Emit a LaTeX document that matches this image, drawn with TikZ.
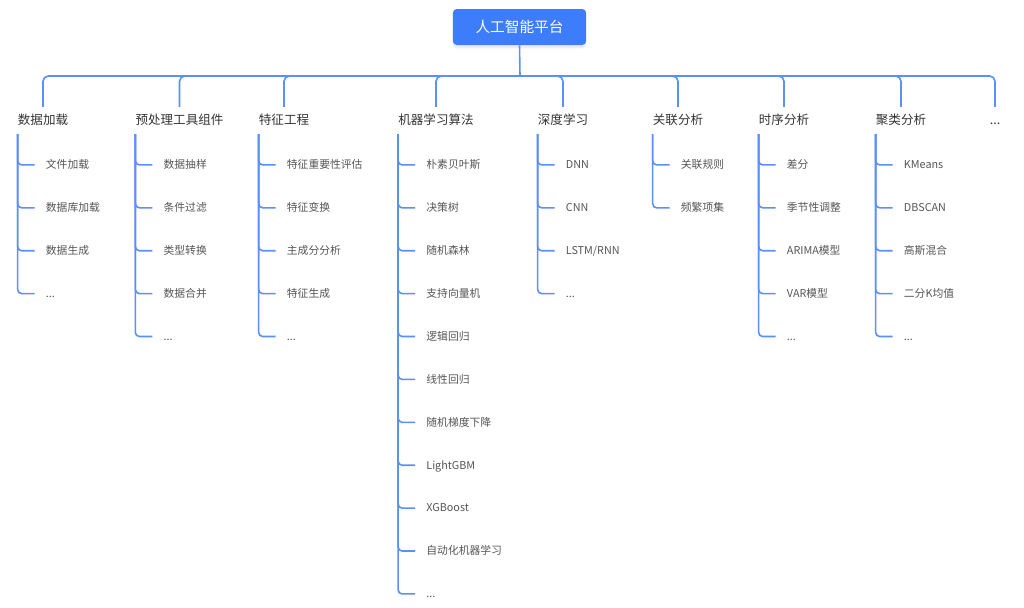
\documentclass[tikz,border=0pt]{standalone}
\usepackage{fontspec}
\setmainfont{Noto Sans CJK SC}
\usepackage{xcolor}
\usetikzlibrary{calc,shadows}
\definecolor{linkblue}{HTML}{5B8FF9}
\definecolor{rootblue}{HTML}{3D7CFB}
\definecolor{cattext}{HTML}{333333}
\definecolor{leaftext}{HTML}{555555}
\newcommand{\moredots}{...}

\begin{document}
\begin{tikzpicture}[x=0.75pt, y=0.75pt,
  link/.style={draw=linkblue, line width=1.2pt, rounded corners=4pt},
  rootbox/.style={fill=rootblue, text=white, rounded corners=3pt, minimum width=100pt, minimum height=27pt, font=\fontsize{11}{13}\selectfont, drop shadow={shadow xshift=0pt, shadow yshift=-2.5pt, fill=rootblue!12, opacity=1}},
  cat/.style={inner sep=0pt, text height=8pt, text depth=1.4pt, text=cattext, font=\fontsize{9.4}{11}\selectfont},
  leaf/.style={anchor=west, inner xsep=8.25pt, inner ysep=0pt, text height=7pt, text depth=1.2pt, text=leaftext, font=\fontsize{8.1}{10}\selectfont}]
  \useasboundingbox (0,0) rectangle (1024,-607);

  % Root and bus
  \node[rootbox] (root) at (519.5,-27) {人工智能平台};
  \coordinate (bus) at (520,-76);
  \draw[link] (root.south) -- (bus);

  % Categories
  \node[cat] (c1) at (43,-120) {数据加载};
  \node[cat] (c2) at (179.5,-120) {预处理工具组件};
  \node[cat] (c3) at (284,-120) {特征工程};
  \node[cat] (c4) at (436,-120) {机器学习算法};
  \node[cat] (c5) at (563,-120) {深度学习};
  \node[cat] (c6) at (678,-120) {关联分析};
  \node[cat] (c7) at (784,-120) {时序分析};
  \node[cat] (c8) at (901,-120) {聚类分析};
  \node[cat] (c9) at (995,-120) {\moredots};
  \foreach \c in {c1,c2,c3,c4,c5,c6,c7,c8,c9}
    \draw[link, shorten >=5pt] (bus) -| (\c.north);

  % Stem tops under each category
  \foreach \c in {c1,c2,c3,c4,c5,c6,c7,c8}
    \coordinate (\c-top) at ($(\c.west)+(0,-14)$);

  % Leaves
  \foreach \t [count=\i] in {文件加载,数据库加载,数据生成,\moredots}{
    \node[leaf] (c1-\i) at ([shift={(17,12-42.9*\i)}]c1-top) {\t};
    \draw[link, rounded corners=3pt] (c1-top) |- (c1-\i.west);
  }
  \foreach \t [count=\i] in {数据抽样,条件过滤,类型转换,数据合并,\moredots}{
    \node[leaf] (c2-\i) at ([shift={(17,12-42.9*\i)}]c2-top) {\t};
    \draw[link, rounded corners=3pt] (c2-top) |- (c2-\i.west);
  }
  \foreach \t [count=\i] in {特征重要性评估,特征变换,主成分分析,特征生成,\moredots}{
    \node[leaf] (c3-\i) at ([shift={(17,12-42.9*\i)}]c3-top) {\t};
    \draw[link, rounded corners=3pt] (c3-top) |- (c3-\i.west);
  }
  \foreach \t [count=\i] in {朴素贝叶斯,决策树,随机森林,支持向量机,逻辑回归,线性回归,随机梯度下降,LightGBM,XGBoost,自动化机器学习,\moredots}{
    \node[leaf] (c4-\i) at ([shift={(17,12-42.9*\i)}]c4-top) {\t};
    \draw[link, rounded corners=3pt] (c4-top) |- (c4-\i.west);
  }
  \foreach \t [count=\i] in {DNN,CNN,LSTM/RNN,\moredots}{
    \node[leaf] (c5-\i) at ([shift={(17,12-42.9*\i)}]c5-top) {\t};
    \draw[link, rounded corners=3pt] (c5-top) |- (c5-\i.west);
  }
  \foreach \t [count=\i] in {关联规则,频繁项集}{
    \node[leaf] (c6-\i) at ([shift={(17,12-42.9*\i)}]c6-top) {\t};
    \draw[link, rounded corners=3pt] (c6-top) |- (c6-\i.west);
  }
  \foreach \t [count=\i] in {差分,季节性调整,ARIMA模型,VAR模型,\moredots}{
    \node[leaf] (c7-\i) at ([shift={(17,12-42.9*\i)}]c7-top) {\t};
    \draw[link, rounded corners=3pt] (c7-top) |- (c7-\i.west);
  }
  \foreach \t [count=\i] in {KMeans,DBSCAN,高斯混合,二分K均值,\moredots}{
    \node[leaf] (c8-\i) at ([shift={(17,12-42.9*\i)}]c8-top) {\t};
    \draw[link, rounded corners=3pt] (c8-top) |- (c8-\i.west);
  }
\end{tikzpicture}
\end{document}
